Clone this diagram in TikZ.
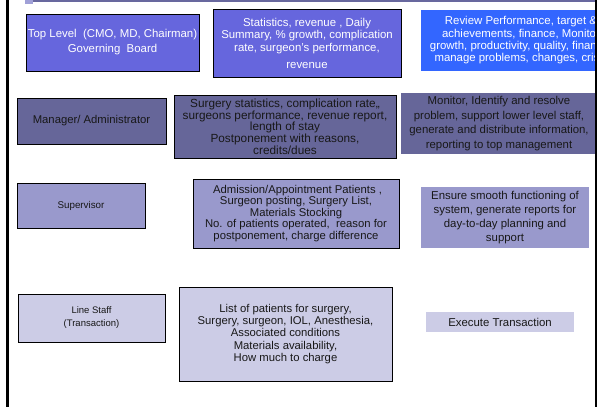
\documentclass[tikz,border=0pt]{standalone}
\usepackage{fontspec}
\setmainfont{Liberation Sans}
\usepackage{xcolor}
\definecolor{cTop}{RGB}{102,102,221}
\definecolor{cRev}{RGB}{51,102,255}
\definecolor{cMid}{RGB}{102,102,153}
\definecolor{cSup}{RGB}{153,153,204}
\definecolor{cLow}{RGB}{204,204,230}
\definecolor{cBar}{RGB}{104,104,158}
\definecolor{cTab}{RGB}{160,160,215}
\definecolor{cTxt}{RGB}{24,24,24}

\begin{document}
\begin{tikzpicture}[x=1pt,y=-1pt,
  box/.style={draw=black,line width=0.6pt,inner sep=0pt,align=center,text=cTxt},
  plain/.style={box,draw=none},
  txt/.style 2 args={font=\fontsize{#1}{#2}\selectfont}]
  \useasboundingbox (0,0) rectangle (597,407);
  \clip (0,0) rectangle (597,407);
  % top strip
  \fill[cBar] (33,0) rectangle (597,2);
  \fill[cTab] (25,0) rectangle (33,3.5);
  % top level
  \node[box,fill=cTop,text=white,minimum width=173pt,minimum height=57pt,txt={11.4}{15}] (top) at (112.5,42.5)
    {Top Level\ \ (CMO, MD, Chairman)\\Governing\ \ Board};
  \node[box,fill=cTop,text=white,minimum width=188pt,minimum height=68pt,txt={11.4}{12.5}] (topinfo) at (307,43)
    {Statistics, revenue , Daily\\Summary, \% growth, complication\\rate, surgeon's performance,\\[4.5pt]revenue};
  \node[plain,fill=cRev,text=white,minimum width=200pt,minimum height=61pt,txt={11.4}{12.3}] (toptask) at (521,40.5)
    {Review Performance, target \&\\achievements, finance, Monitor\\growth, productivity, quality, finance,\\manage problems, changes, crisis};
  % manager
  \node[box,fill=cMid,minimum width=149pt,minimum height=46pt,txt={11.3}{13}] (mgr) at (91.5,121)
    {Manager/ Administrator};
  \node[box,fill=cMid,minimum width=222pt,minimum height=63pt,txt={11.8}{11.7}] (mgrinfo) at (285,126.5)
    {Surgery statistics, complication rate,,\\surgeons performance, revenue report,\\length of stay\\Postponement with reasons,\\credits/dues};
  \node[plain,fill=cMid,minimum width=196pt,minimum height=61pt,txt={11.4}{14.8}] (mgrtask) at (499,123.5)
    {Monitor, Identify and resolve\\problem, support lower level staff,\\generate and distribute information,\\reporting to top management};
  % supervisor
  \node[box,fill=cSup,minimum width=128pt,minimum height=45pt,txt={9.8}{12}] (sup) at (81,205.5)
    {Supervisor};
  \node[box,fill=cSup,minimum width=206pt,minimum height=69pt,txt={11.3}{11.5}] (supinfo) at (296,213.5)
    {\ Admission/Appointment Patients ,\\Surgeon posting, Surgery List,\\Materials Stocking\\No. of patients operated,\ \ reason for\\postponement, charge difference};
  \node[plain,fill=cSup,minimum width=168pt,minimum height=61pt,txt={11.4}{13.9}] (suptask) at (505,217.5)
    {Ensure smooth functioning of\\system, generate reports for\\day-to-day planning and\\support};
  % line staff
  \node[box,fill=cLow,minimum width=147pt,minimum height=48pt,txt={9.5}{13}] (line) at (91.5,318)
    {Line Staff\\(Transaction)};
  \node[box,fill=cLow,minimum width=213pt,minimum height=94pt,txt={11.3}{12.1}] (lineinfo) at (285.5,334)
    {List of patients for surgery,\\Surgery, surgeon, IOL, Anesthesia,\\Associated conditions\\Materials availability,\\How much to charge};
  \node[plain,fill=cLow,minimum width=148pt,minimum height=20pt,txt={11.4}{13}] (linetask) at (500,322)
    {Execute Transaction};
  % frame
  \draw[line width=2.5pt] (7.5,0) -- (7.5,407);
  \draw[line width=2.5pt] (596,0) -- (596,407);
\end{tikzpicture}
\end{document}
